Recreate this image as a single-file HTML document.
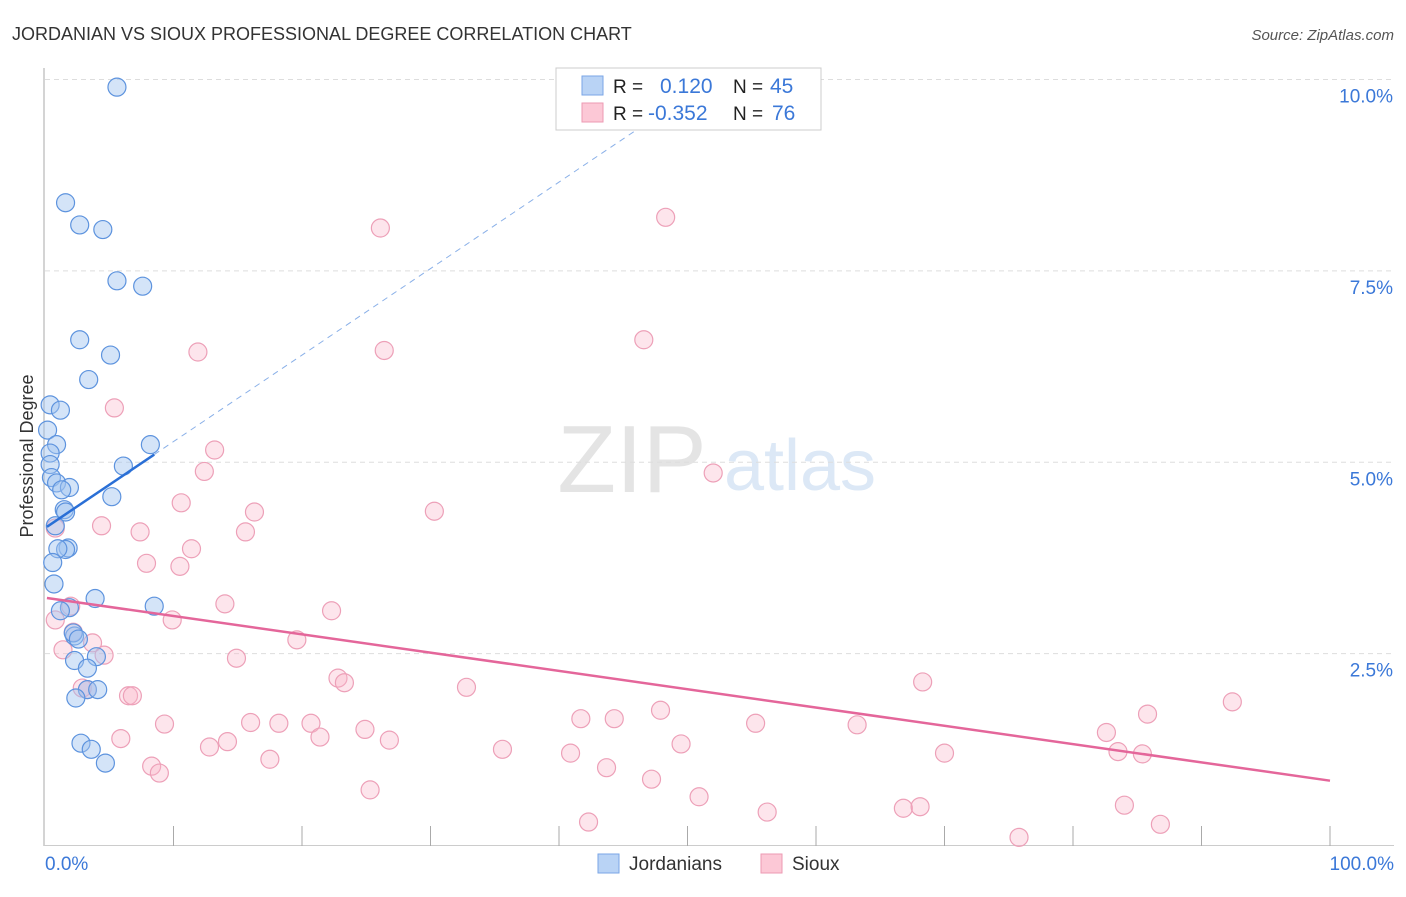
<!DOCTYPE html>
<html><head><meta charset="utf-8"><style>
body{margin:0;background:#fff;font-family:"Liberation Sans",sans-serif}
svg text{font-family:"Liberation Sans",sans-serif}
</style></head><body>
<svg id="c" width="1406" height="892" xmlns="http://www.w3.org/2000/svg">
<text x="12" y="40" font-size="18" fill="#333">JORDANIAN VS SIOUX PROFESSIONAL DEGREE CORRELATION CHART</text>
<text x="1394" y="40" font-size="15" fill="#555" font-style="italic" text-anchor="end">Source: ZipAtlas.com</text>
<text x="632" y="492" font-size="96" fill="#e4e4e4" font-family="Liberation Serif" text-anchor="middle">ZIP</text>
<text x="800" y="490" font-size="72" fill="#dce8f6" text-anchor="middle">atlas</text>
<text transform="translate(33,456) rotate(-90)" font-size="18" fill="#333" text-anchor="middle">Professional Degree</text>
<g id="grid"></g><g id="marks"></g>
<g>
<rect x="556" y="68" width="265" height="62" fill="#fff" stroke="#ccc"/>
<rect x="582" y="76" width="21" height="19" fill="#b9d3f5" stroke="#7aa6e6"/>
<rect x="582" y="103" width="21" height="19" fill="#fcc8d6" stroke="#ec9ab3"/>
<text x="613" y="93" font-size="19" fill="#222">R = </text><text x="660" y="93" font-size="21" fill="#3b78d8">0.120</text>
<text x="733" y="93" font-size="19" fill="#222">N = </text><text x="770" y="93" font-size="21" fill="#3b78d8">45</text>
<text x="613" y="120" font-size="19" fill="#222">R = </text><text x="648" y="120" font-size="21" fill="#3b78d8">-0.352</text>
<text x="733" y="120" font-size="19" fill="#222">N = </text><text x="772" y="120" font-size="21" fill="#3b78d8">76</text>
</g>
<g>
<rect x="598" y="854" width="21" height="19" fill="#b9d3f5" stroke="#7aa6e6"/>
<text x="629" y="870" font-size="19" fill="#333">Jordanians</text>
<rect x="761" y="854" width="21" height="19" fill="#fcc8d6" stroke="#ec9ab3"/>
<text x="792" y="870" font-size="19" fill="#333">Sioux</text>
</g>
</svg>
<script>
const yTicks=[2.5,5.0,7.5,10.0];
const xTicks=[0,10,20,30,40,50,60,70,80,90,100];
const blueX=[5.6,1.6,2.7,4.5,5.6,7.6,2.7,5.1,3.4,0.4,1.2,0.2,0.9,0.4,0.4,0.5,0.9,1.9,1.3,1.5,1.6,5.2,6.1,8.2,0.8,1.8,1.6,1.0,0.6,0.7,3.9,8.5,1.9,1.2,2.3,2.2,2.6,4.0,2.3,3.3,3.3,4.1,2.4,2.8,3.6,4.7];
const blueY=[9.9,8.39,8.1,8.04,7.37,7.3,6.6,6.4,6.08,5.75,5.68,5.42,5.23,5.12,4.97,4.8,4.73,4.67,4.64,4.38,4.35,4.55,4.95,5.23,4.17,3.88,3.86,3.87,3.69,3.41,3.22,3.12,3.1,3.06,2.73,2.77,2.69,2.46,2.41,2.31,2.03,2.03,1.92,1.33,1.25,1.07];
const pinkX=[26.1,48.3,11.9,26.4,46.6,5.4,13.2,12.4,52.0,10.6,16.3,30.3,4.4,0.8,7.4,15.6,11.4,7.9,10.5,14.0,22.3,9.9,0.8,2.0,2.2,3.7,1.4,4.6,19.6,14.9,22.8,23.3,32.8,68.3,2.9,3.3,6.5,6.8,9.3,16.0,18.2,20.7,24.9,21.4,92.4,85.8,41.7,44.3,47.9,55.3,63.2,82.6,5.9,14.2,12.8,26.8,35.6,40.9,49.5,70.0,83.5,85.4,17.5,8.3,8.9,43.7,47.2,25.3,50.9,84.0,66.8,68.1,56.2,42.3,86.8,75.8];
const pinkY=[8.06,8.2,6.44,6.46,6.6,5.71,5.16,4.88,4.86,4.47,4.35,4.36,4.17,4.14,4.09,4.09,3.87,3.68,3.64,3.15,3.06,2.94,2.94,3.12,2.78,2.64,2.55,2.48,2.68,2.44,2.18,2.12,2.06,2.13,2.05,2.03,1.95,1.95,1.58,1.6,1.59,1.59,1.51,1.41,1.87,1.71,1.65,1.65,1.76,1.59,1.57,1.47,1.39,1.35,1.28,1.37,1.25,1.2,1.32,1.2,1.22,1.19,1.12,1.03,0.94,1.01,0.86,0.72,0.63,0.52,0.48,0.50,0.43,0.30,0.27,0.10];
const blueTrend=[4.14,0.113];
const pinkTrend=[3.23,-0.0239];
const X=v=>45+v*12.85, Y=v=>845-v*76.55;
const NS='http://www.w3.org/2000/svg';
function mk(tag,at,parent){const e=document.createElementNS(NS,tag);for(const k in at)e.setAttribute(k,at[k]);parent.appendChild(e);return e;}
const g=document.getElementById('grid'),m=document.getElementById('marks');
for(const t of yTicks){
 const l=mk('line',{x1:45,x2:1394,y1:Y(t),y2:Y(t),stroke:'#ddd','stroke-dasharray':'5,4'},g);
 
 
 const tx=mk('text',{x:1393,y:Y(t)+23,'font-size':19,fill:'#3b78d8','text-anchor':'end'},g);tx.textContent=t.toFixed(1)+'%';
 
 
}
mk('line',{x1:44,x2:44,y1:68,y2:846,stroke:'#aaa'},g);
mk('line',{x1:44,x2:1394,y1:845.5,y2:845.5,stroke:'#ccc'},g);
for(const t of xTicks){ if(t===0)continue;
 const l=mk('line',{x1:X(t),x2:X(t),y1:826,y2:846,stroke:'#aaa'},g);
 
 
}
const xl0=mk('text',{x:45,y:870,'font-size':19,fill:'#3b78d8'},g);xl0.textContent='0.0%';


const xl1=mk('text',{x:1394,y:870,'font-size':19,fill:'#3b78d8','text-anchor':'end'},g);xl1.textContent='100.0%';


for(let i=0;i<pinkX.length;i++){
 const c=mk('circle',{cx:X(pinkX[i]),cy:Y(pinkY[i]),r:9,fill:'rgba(248,180,200,0.35)',stroke:'#eda0b8','stroke-width':1.2},m);
 
 
}
for(let i=0;i<blueX.length;i++){
 const c=mk('circle',{cx:X(blueX[i]),cy:Y(blueY[i]),r:9,fill:'rgba(160,195,240,0.45)',stroke:'#5d93de','stroke-width':1.2},m);
 
 
}
const bx0=0.15,bx1=Math.max(...blueX),bx2=47;
let l=mk('line',{x1:X(bx1),y1:Y(blueTrend[0]+blueTrend[1]*bx1),x2:X(bx2),y2:Y(blueTrend[0]+blueTrend[1]*bx2),stroke:'#8ab0e8','stroke-width':1,'stroke-dasharray':'6,5'},m);


l=mk('line',{x1:X(bx0),y1:Y(blueTrend[0]+blueTrend[1]*bx0),x2:X(bx1),y2:Y(blueTrend[0]+blueTrend[1]*bx1),stroke:'#2a6fd6','stroke-width':2.5},m);


l=mk('line',{x1:X(0.15),y1:Y(pinkTrend[0]+pinkTrend[1]*0.15),x2:X(100),y2:Y(pinkTrend[0]+pinkTrend[1]*100),stroke:'#e4669a','stroke-width':2.5},m);


</script>
</body></html>
